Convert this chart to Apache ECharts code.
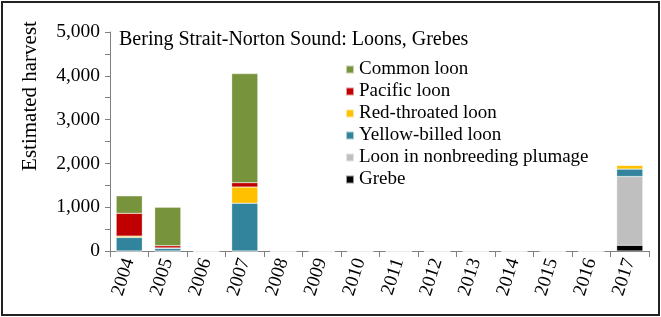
<!DOCTYPE html>
<html>
<head>
<meta charset="utf-8">
<script src="https://cdn.jsdelivr.net/npm/echarts@6/dist/echarts.min.js"></script>
<style>
  html, body { margin: 0; padding: 0; background: #fff; }
  #chart { position: absolute; left: 1px; top: 1px; width: 655px; height: 311px; border: 2px solid #222; }
</style>
</head>
<body>
<div id="chart"></div>
<script>
const years = ['2004', '2005', '2006', '2007', '2008', '2009', '2010', '2011', '2012', '2013', '2014', '2015', '2016', '2017'];

// values per year
const grebe        = [0, 0, 0, 0, 0, 0, 0, 0, 0, 0, 0, 0, 0, 130];
const nonbreeding  = [0, 0, 0, 0, 0, 0, 0, 0, 0, 0, 0, 0, 0, 1570];
const yellowBilled = [310, 60, 0, 1090, 0, 0, 0, 0, 0, 0, 0, 0, 0, 170];
const redThroated  = [30, 10, 0, 370, 0, 0, 0, 0, 0, 0, 0, 0, 0, 90];
const pacific      = [520, 50, 0, 100, 0, 0, 0, 0, 0, 0, 0, 0, 0, 0];
const common       = [400, 880, 0, 2490, 0, 0, 0, 0, 0, 0, 0, 0, 0, 0];

const yTicks = [0, 1000, 2000, 3000, 4000, 5000];

const serif = 'Liberation Serif';

function bar(name, data, color) {
    return {
        name: name,
        type: 'bar',
        stack: 'total',
        data: data,
        barWidth: '68%',
        itemStyle: { color: color, borderColor: 'rgba(255,255,255,0.6)', borderWidth: 0.5 },
        emphasis: { disabled: true }
    };
}

const chart = echarts.init(document.getElementById('chart'), null, { renderer: 'canvas' });

chart.setOption({
    animation: false,
    title: {
        text: 'Bering Strait-Norton Sound: Loons, Grebes',
        left: 111,
        top: 22,
        textStyle: { fontFamily: serif, fontSize: 20, fontWeight: 'normal', color: '#000' }
    },
    legend: {
        orient: 'vertical',
        left: 337,
        top: 52,
        itemWidth: 8,
        itemHeight: 8,
        itemGap: 3,
        icon: 'rect',
        textStyle: { fontFamily: serif, fontSize: 19, color: '#000' },
        data: ['Common loon', 'Pacific loon', 'Red-throated loon', 'Yellow-billed loon', 'Loon in nonbreeding plumage', 'Grebe']
    },
    // y axis title sits above the middle of the axis in the original
    graphic: [{
        type: 'text',
        x: 27,
        y: 93,
        rotation: Math.PI / 2,
        style: {
            text: 'Estimated harvest',
            font: '21px "Liberation Serif"',
            fill: '#000',
            align: 'center',
            verticalAlign: 'middle'
        }
    }],
    grid: { left: 107, right: 9, top: 29, bottom: 63 },
    xAxis: {
        type: 'category',
        data: years,
        boundaryGap: true,
        axisLine: { lineStyle: { color: '#808080', width: 1 } },
        axisTick: { show: true, length: 6, lineStyle: { color: '#808080' } },
        axisLabel: {
            rotate: 72,
            margin: 8,
            fontFamily: serif,
            fontSize: 19,
            color: '#000'
        }
    },
    yAxis: {
        type: 'value',
        min: yTicks[0],
        max: yTicks[yTicks.length - 1],
        interval: 1000,
        axisLine: { show: true, lineStyle: { color: '#808080' } },
        axisTick: { show: true, length: 5, lineStyle: { color: '#808080' } },
        minorTick: { show: true, splitNumber: 2, length: 5, lineStyle: { color: '#808080' } },
        splitLine: { show: false },
        axisLabel: {
            margin: 10,
            fontFamily: serif,
            fontSize: 19.5,
            color: '#000',
            formatter: v => v.toLocaleString('en-US')
        }
    },
    series: [
        bar('Grebe', grebe, '#000000'),
        bar('Loon in nonbreeding plumage', nonbreeding, '#bfbfbf'),
        bar('Yellow-billed loon', yellowBilled, '#31849b'),
        bar('Red-throated loon', redThroated, '#ffc000'),
        bar('Pacific loon', pacific, '#c00000'),
        bar('Common loon', common, '#77933c')
    ]
});
</script>
</body>
</html>
